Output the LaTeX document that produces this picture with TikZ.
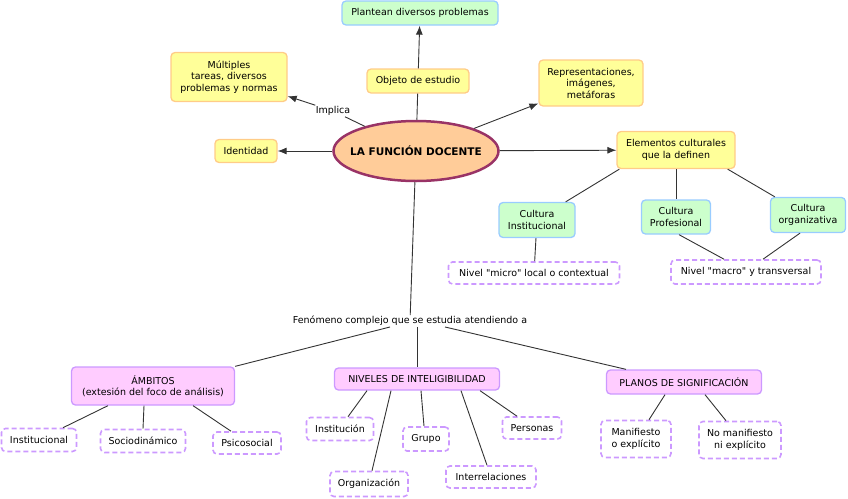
\documentclass[tikz,border=0pt]{standalone}
\usepackage{fontspec}
\setmainfont{DejaVu Sans}[Ligatures=TeXOff]
\usetikzlibrary{arrows.meta,shapes.geometric}
\definecolor{yfill}{HTML}{FFFF99}
\definecolor{ydraw}{HTML}{FFCC88}
\definecolor{gfill}{HTML}{CCFFCC}
\definecolor{gdraw}{HTML}{99CCFF}
\definecolor{pfill}{HTML}{FFCCFF}
\definecolor{pdraw}{HTML}{CC99FF}
\definecolor{efill}{HTML}{FFCC99}
\definecolor{edraw}{HTML}{993366}
\definecolor{lc}{HTML}{333333}
\begin{document}
\begin{tikzpicture}[x=1pt,y=-1pt, font=\fontsize{9.5}{11.5}\selectfont,
 box/.style={rounded corners=4pt, line width=1.3pt, align=center, inner sep=0pt},
 ybox/.style={box, fill=yfill, draw=ydraw},
 gbox/.style={box, fill=gfill, draw=gdraw},
 pbox/.style={box, fill=pfill, draw=pdraw},
 dbox/.style={box, fill=white, draw=pdraw, dash pattern=on 5pt off 3pt, line width=1.6pt},
 lbl/.style={fill=white, inner sep=1pt},
 conn/.style={draw=lc, line width=0.9pt},
 arr/.style={conn, -{Latex[length=9pt,width=7pt]}}
]
\useasboundingbox (0,0) rectangle (848,498);
\node[gbox, minimum width=156pt, minimum height=24pt] (plan) at (420,13) {Plantean diversos problemas};
\node[ybox, minimum width=102pt, minimum height=24pt] (obj) at (418,81) {Objeto de estudio};
\node[ybox, minimum width=116pt, minimum height=49pt] (mult) at (229,77) {Múltiples\\tareas, diversos\\problemas y normas};
\node[lbl] (impl) at (333,111) {Implica};
\node[ybox, minimum width=62pt, minimum height=23pt] (ident) at (246,151) {Identidad};
\node[ellipse, fill=efill, draw=edraw, line width=2.5pt, minimum width=165pt, minimum height=60pt, inner xsep=-14pt, inner ysep=0pt, font=\fontsize{10.5}{12}\selectfont\bfseries] (fd) at (416,151) {LA FUNCIÓN DOCENTE};
\node[ybox, minimum width=104pt, minimum height=46pt] (rep) at (591,83) {Representaciones,\\imágenes,\\metáforas};
\node[ybox, minimum width=118pt, minimum height=37pt] (elem) at (676,150) {Elementos culturales\\que la definen};
\node[gbox, minimum width=76pt, minimum height=35pt] (ci) at (537,220) {Cultura\\Institucional};
\node[gbox, minimum width=69pt, minimum height=34pt] (cp) at (676,217) {Cultura\\Profesional};
\node[gbox, minimum width=75pt, minimum height=35pt] (co) at (808,215) {Cultura\\organizativa};
\node[dbox, minimum width=171pt, minimum height=22pt] (micro) at (534,273) {Nivel "micro" local o contextual};
\node[dbox, minimum width=150pt, minimum height=24pt] (macro) at (746,272) {Nivel "macro" y transversal};
\node[lbl] (fen) at (410,321) {Fenómeno complejo que se estudia atendiendo a};
\node[pbox, minimum width=163pt, minimum height=38pt] (amb) at (153,386) {ÁMBITOS\\(extesión del foco de análisis)};
\node[pbox, minimum width=165pt, minimum height=22pt] (niv) at (417,379) {NIVELES DE INTELIGIBILIDAD};
\node[pbox, minimum width=155pt, minimum height=24pt] (plan2) at (684,382) {PLANOS DE SIGNIFICACIÓN};
\node[dbox, minimum width=75pt, minimum height=23pt] (inst) at (39,440) {Institucional};
\node[dbox, minimum width=85pt, minimum height=23pt] (socio) at (143,441) {Sociodinámico};
\node[dbox, minimum width=68pt, minimum height=22pt] (psico) at (247,443) {Psicosocial};
\node[dbox, minimum width=67pt, minimum height=23pt] (instn) at (340,429) {Institución};
\node[dbox, minimum width=46pt, minimum height=24pt] (grupo) at (426,439) {Grupo};
\node[dbox, minimum width=59pt, minimum height=22pt] (pers) at (532,428) {Personas};
\node[dbox, minimum width=78pt, minimum height=25pt] (org) at (369,484) {Organización};
\node[dbox, minimum width=90pt, minimum height=22pt] (inter) at (491,477) {Interrelaciones};
\node[dbox, minimum width=70pt, minimum height=37pt] (man) at (636,439) {Manifiesto\\o explícito};
\node[dbox, minimum width=82pt, minimum height=37pt] (noman) at (740,440) {No manifiesto\\ni explícito};

\draw[conn] (fd) -- (obj);
\draw[arr] (obj) -- (plan);
\draw[conn] (fd) -- (impl);
\draw[arr] (impl) -- (mult);
\draw[arr] (fd) -- (ident);
\draw[arr] (fd) -- (rep);
\draw[arr] (fd) -- (elem);
\draw[conn] ([xshift=3pt]elem.south west) -- ([xshift=-10pt]ci.north east);
\draw[conn] (elem) -- (cp);
\draw[conn] ([xshift=-8pt]elem.south east) -- ([xshift=5pt]co.north west);
\draw[conn] (ci) -- (micro);
\draw[conn] ([xshift=3pt]cp.south) -- ([xshift=-22pt]macro.north);
\draw[conn] ([xshift=-8pt]co.south) -- ([xshift=17pt]macro.north);
\draw[conn] (fd) -- (fen);
\draw[conn] ([xshift=-20pt]fen.south) -- (amb.north east);
\draw[conn] ([xshift=7pt]fen.south) -- (niv.north);
\draw[conn] ([xshift=35pt]fen.south) -- ([xshift=-58pt]plan2.north);
\draw[conn] ([xshift=-45pt]amb.south) -- ([xshift=24pt]inst.north);
\draw[conn] ([xshift=-9pt]amb.south) -- (socio.north);
\draw[conn] ([xshift=40pt]amb.south) -- ([xshift=-16pt]psico.north);
\draw[conn] ([xshift=-50pt]niv.south) -- ([xshift=8pt]instn.north);
\draw[conn] ([xshift=-26pt]niv.south) -- ([xshift=3pt]org.north);
\draw[conn] ([xshift=4pt]niv.south) -- ([xshift=-2pt]grupo.north);
\draw[conn] ([xshift=44pt]niv.south) -- ([xshift=-4pt]inter.north);
\draw[conn] ([xshift=63pt]niv.south) -- ([xshift=-15pt]pers.north);
\draw[conn] ([xshift=-19pt]plan2.south) -- ([xshift=13pt]man.north);
\draw[conn] ([xshift=21pt]plan2.south) -- ([xshift=-14pt]noman.north);
\end{tikzpicture}
\end{document}
